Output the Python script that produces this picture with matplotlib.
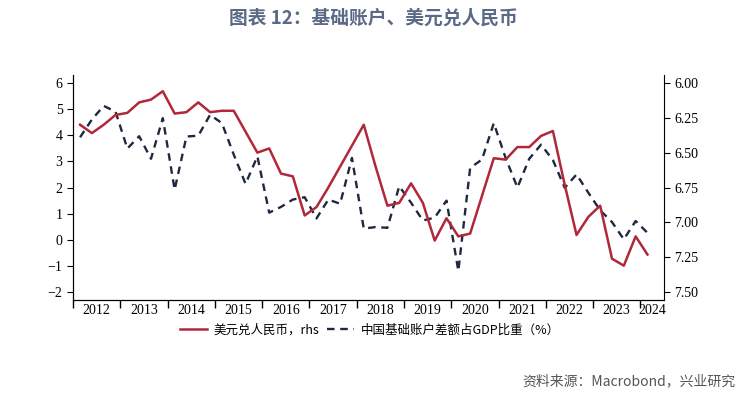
import numpy as np
import pandas as pd
import matplotlib
matplotlib.use("Agg")
import matplotlib.pyplot as plt
from matplotlib.ticker import FormatStrFormatter, FixedLocator, NullFormatter

plt.rcParams['font.family'] = 'serif'
plt.rcParams['font.serif'] = ['Liberation Serif', 'DejaVu Serif']
cjk = ['Noto Sans CJK SC', 'DejaVu Sans']

# quarterly data 2012Q1 - 2024Q1
quarters = pd.period_range('2012Q1', '2024Q1', freq='Q')

# 中国基础账户差额占GDP比重 (%), left axis
basic_balance = [3.92, 4.6, 5.12, 4.9, 3.49, 3.96, 3.10, 4.65, 1.92, 3.95, 3.98, 4.78,
                 4.46, 3.26, 2.14, 3.19, 1.04, 1.26, 1.54, 1.63, 0.82, 1.54, 1.38, 3.13,
                 0.43, 0.49, 0.46, 2.05, 1.42, 0.74, 0.85, 1.5, -1.19, 2.75, 3.07, 4.46,
                 3.13, 2.0, 3.1, 3.64, 3.05, 1.99, 2.5, 1.8, 1.13, 0.68, 0.02, 0.72, 0.27]

# 美元兑人民币, right axis (inverted)
usdcny = [6.30, 6.36, 6.30, 6.23, 6.215, 6.14, 6.12, 6.06, 6.22, 6.21, 6.14, 6.21,
          6.20, 6.20, 6.35, 6.50, 6.47, 6.65, 6.67, 6.95, 6.89, 6.75, 6.60, 6.45,
          6.30, 6.60, 6.88, 6.86, 6.72, 6.86, 7.13, 6.97, 7.10, 7.08, 6.81, 6.54,
          6.55, 6.46, 6.46, 6.38, 6.345, 6.73, 7.09, 6.96, 6.88, 7.26, 7.31, 7.10, 7.23]

years = list(range(2012, 2025))
left_ticks = [-2, -1, 0, 1, 2, 3, 4, 5, 6]
right_ticks = [6.00, 6.25, 6.50, 6.75, 7.00, 7.25, 7.50]

x = np.array([q.year + (q.quarter - 1) * 0.25 + 0.15 for q in quarters])

red = '#B0283A'
navy = '#1E2940'

fig = plt.figure(figsize=(7.47, 3.99), dpi=100)
ax = fig.add_axes([0.0977, 0.248, 0.7912, 0.564])
ax2 = ax.twinx()

l2, = ax.plot(x, basic_balance, color=navy, lw=1.7, ls=(0, (3.2, 2.4)),
              label='中国基础账户差额占GDP比重（%）', zorder=2)
l1, = ax2.plot(x, usdcny, color=red, lw=1.8, label='美元兑人民币，rhs', zorder=3)

ax.set_xlim(2012.0, 2024.5)
ax.set_ylim(-2.3, 6.3)
ax2.set_ylim(6 + 8.3 * 0.1875, 6 - 0.3 * 0.1875)

ax.set_yticks(left_ticks)
ax2.set_yticks(right_ticks)
ax2.yaxis.set_major_formatter(FormatStrFormatter('%.2f'))

# year boundaries as ticks, labels centred between them
ax.xaxis.set_major_locator(FixedLocator(years))
ax.xaxis.set_major_formatter(NullFormatter())
mids = [y + 0.5 for y in years[:-1]] + [2024.25]
ax.xaxis.set_minor_locator(FixedLocator(mids))
ax.set_xticklabels([str(y) for y in years], minor=True)
ax.tick_params(axis='x', which='major', direction='out', length=6, width=1)
ax.tick_params(axis='x', which='minor', length=0, pad=3, labelsize=10)
ax.tick_params(axis='y', direction='out', length=4, labelsize=10)
ax2.tick_params(axis='y', direction='out', length=4, labelsize=10)

for a in (ax, ax2):
    a.spines['top'].set_visible(False)
ax.spines['right'].set_visible(False)

fig.legend(handles=[l1, l2], loc='center', bbox_to_anchor=(0.495, 0.173), ncol=2,
           frameon=False, prop={'family': cjk, 'size': 9}, handlelength=2.2,
           columnspacing=0.6, handletextpad=0.5)

fig.text(0.5, 0.955, '图表 12：基础账户、美元兑人民币', ha='center', va='center',
         family=cjk, fontsize=13.5, fontweight='bold', color='#5A6A86')
fig.text(0.985, 0.045, '资料来源：Macrobond，兴业研究', ha='right', va='center',
         family=cjk, fontsize=10, color='#555555')

fig.savefig('out.png', dpi=100)
